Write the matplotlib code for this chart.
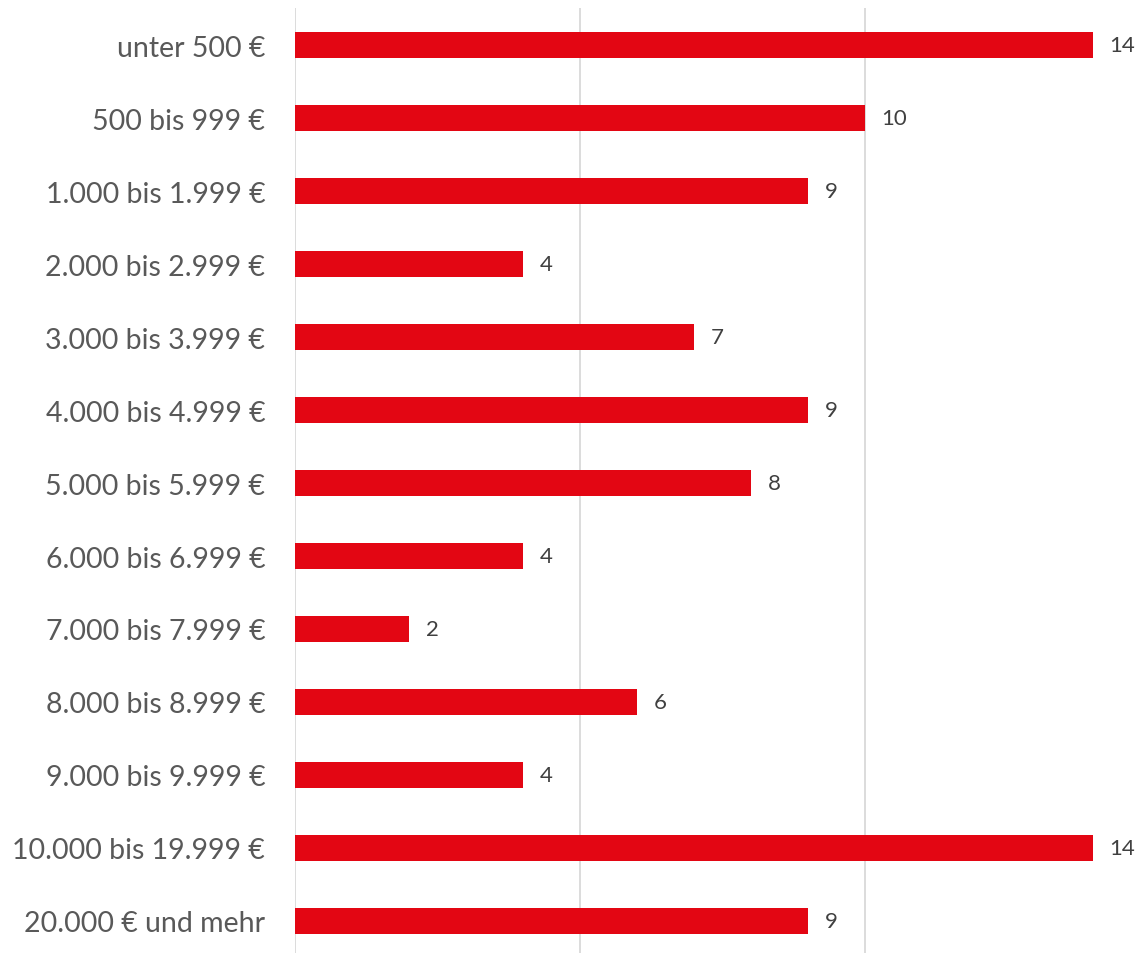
import matplotlib.pyplot as plt

# Anzahl je Einkommensklasse
categories = ['unter 500 €', '500 bis 999 €', '1.000 bis 1.999 €', '2.000 bis 2.999 €',
              '3.000 bis 3.999 €', '4.000 bis 4.999 €', '5.000 bis 5.999 €',
              '6.000 bis 6.999 €', '7.000 bis 7.999 €', '8.000 bis 8.999 €',
              '9.000 bis 9.999 €', '10.000 bis 19.999 €', '20.000 € und mehr']
values = [14, 10, 9, 4, 7, 9, 8, 4, 2, 6, 4, 14, 9]

plt.rcParams['font.family'] = ['Lato', 'DejaVu Sans']

fig = plt.figure(figsize=(11.37, 9.54), dpi=100)
ax = fig.add_axes([295 / 1137, 0, 1 - 295 / 1137, 1 - 9 / 954])

ypos = list(range(len(categories)))
bars = ax.barh(ypos, values, height=0.36, color='#E30613', zorder=3)

ax.set_xlim(0, (1137 - 295) / 57)
ax.set_ylim(12.44, -0.51)
ax.set_xticks([0, 5, 10])
ax.set_xticklabels([])
ax.tick_params(axis='both', length=0)
ax.xaxis.grid(True, color='#D9D9D9', linewidth=1.3, zorder=0)
ax.set_yticks(ypos)
ax.set_yticklabels(categories, fontsize=20.5, color='#595959')
ax.tick_params(axis='y', pad=21.5)
for s in ax.spines.values():
    s.set_visible(False)

for b, v in zip(bars, values):
    ax.annotate(str(v), (v, b.get_y() + b.get_height() / 2), xytext=(12, 0),
                textcoords='offset points', va='center', ha='left',
                fontsize=16, color='#404040')

fig.savefig('out.png', dpi=100)
